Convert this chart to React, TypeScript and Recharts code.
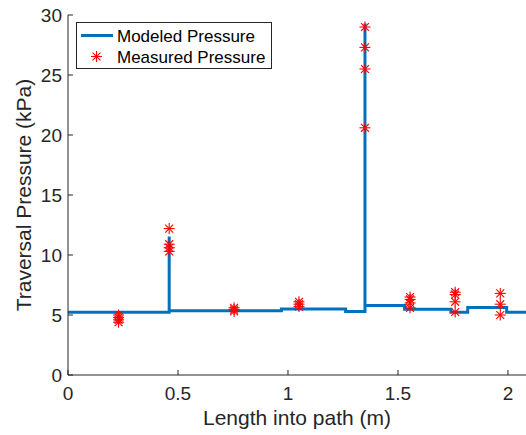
import React from 'react';
import { ComposedChart, Line, Scatter, XAxis, YAxis, Legend } from 'recharts';

// Modeled pressure: step breakpoints (x in m, pressure in kPa), drawn as stepAfter
const modeledX = [0, 0.46, 0.46, 0.97, 1.262, 1.35, 1.35, 1.53, 1.741, 1.817, 1.994, 2.082];
const modeledY = [5.22, 11.55, 5.36, 5.5, 5.3, 29.3, 5.8, 5.47, 5.22, 5.62, 5.22, 5.22];

// Measured pressure: sample positions and the readings at each
const measuredPositions = [0.23, 0.46, 0.755, 1.05, 1.35, 1.555, 1.76, 1.965];
const measuredValues = [
  [5.0, 4.8, 4.6, 4.4],
  [12.2, 10.9, 10.6, 10.3],
  [5.6, 5.45, 5.3],
  [6.1, 5.9, 5.7],
  [29.0, 27.3, 25.5, 20.6],
  [6.5, 6.3, 6.0, 5.6],
  [6.9, 6.7, 6.1, 5.25],
  [6.8, 5.9, 5.0],
];

const xTicks = [0, 0.5, 1, 1.5, 2];
const yTicks = [0, 5, 10, 15, 20, 25, 30];

const modeledData = modeledX.map((x, i) => ({ x, y: modeledY[i] }));
const measuredData = measuredPositions.flatMap((x, i) => measuredValues[i].map((y) => ({ x, y })));

const BLUE = '#0072BD';
const RED = '#FF0000';
const AXIS = '#262626';
const FONT = '"Liberation Sans", Arial, Helvetica, sans-serif';

const StarGlyph = ({ cx, cy, r = 5.5 }: { cx: number; cy: number; r?: number }) => {
  const d = r * 0.72;
  return (
    <g stroke={RED} strokeWidth={1.1}>
      <line x1={cx - r} y1={cy} x2={cx + r} y2={cy} />
      <line x1={cx} y1={cy - r} x2={cx} y2={cy + r} />
      <line x1={cx - d} y1={cy - d} x2={cx + d} y2={cy + d} />
      <line x1={cx - d} y1={cy + d} x2={cx + d} y2={cy - d} />
    </g>
  );
};

const StarShape = (props: any) => <StarGlyph cx={props.cx} cy={props.cy} />;

const LegendBox = () => (
  <div
    style={{
      width: 194,
      height: 45,
      border: `1px solid ${AXIS}`,
      background: '#fff',
      boxSizing: 'content-box',
    }}
  >
    <svg width={194} height={45} style={{ display: 'block', fontFamily: FONT }}>
      <line x1={4} y1={12.5} x2={36} y2={12.5} stroke={BLUE} strokeWidth={3} />
      <text x={40} y={18.5} fontSize={17} fill="#000">Modeled Pressure</text>
      <StarGlyph cx={19.5} cy={33.5} />
      <text x={40} y={39.5} fontSize={17} fill="#000">Measured Pressure</text>
    </svg>
  </div>
);

const YLabel = (props: any) => {
  const vb = props.viewBox || { x: 0, y: 15, width: 68, height: 360 };
  const bx = vb.x + 31;
  const cy = vb.y + vb.height / 2;
  return (
    <text
      x={bx}
      y={cy}
      transform={`rotate(-90 ${bx} ${cy})`}
      textAnchor="middle"
      fontSize={21}
      fill={AXIS}
      fontFamily={FONT}
    >
      Traversal Pressure (kPa)
    </text>
  );
};

export default function App() {
  return (
    <div style={{ position: 'absolute', left: 0, top: 0, width: 526, height: 435, background: '#fff' }}>
      <ComposedChart
        width={526}
        height={435}
        margin={{ top: 15, right: 0, bottom: 0, left: 0 }}
        style={{ fontFamily: FONT }}
      >
        <XAxis
          dataKey="x"
          type="number"
          domain={[0, 2.082]}
          ticks={xTicks}
          height={60}
          tickSize={-5}
          tickMargin={17}
          stroke={AXIS}
          tick={{ fontSize: 19, fill: AXIS }}
          allowDataOverflow
          label={{ value: 'Length into path (m)', position: 'insideBottom', offset: 10, fontSize: 21, fill: AXIS }}
        />
        <XAxis
          xAxisId="top"
          orientation="top"
          dataKey="x"
          type="number"
          domain={[0, 2.082]}
          ticks={xTicks}
          height={0}
          tickSize={-5}
          stroke={AXIS}
          tick={false}
          allowDataOverflow
        />
        <YAxis
          dataKey="y"
          type="number"
          domain={[0, 30]}
          ticks={yTicks}
          width={68}
          tickSize={-5}
          tickMargin={11}
          stroke={AXIS}
          tick={{ fontSize: 19, fill: AXIS }}
          allowDataOverflow
          label={{ content: YLabel }}
        />
        <Legend
          verticalAlign="middle"
          align="center"
          layout="horizontal"
          content={() => <LegendBox />}
          wrapperStyle={{ left: 76, top: 22, width: 196, height: 47 }}
        />
        <Line
          data={modeledData}
          dataKey="y"
          type="stepAfter"
          stroke={BLUE}
          strokeWidth={3}
          dot={false}
          activeDot={false}
          isAnimationActive={false}
          name="Modeled Pressure"
        />
        <Scatter
          data={measuredData}
          dataKey="y"
          shape={StarShape}
          isAnimationActive={false}
          name="Measured Pressure"
        />
      </ComposedChart>
    </div>
  );
}
